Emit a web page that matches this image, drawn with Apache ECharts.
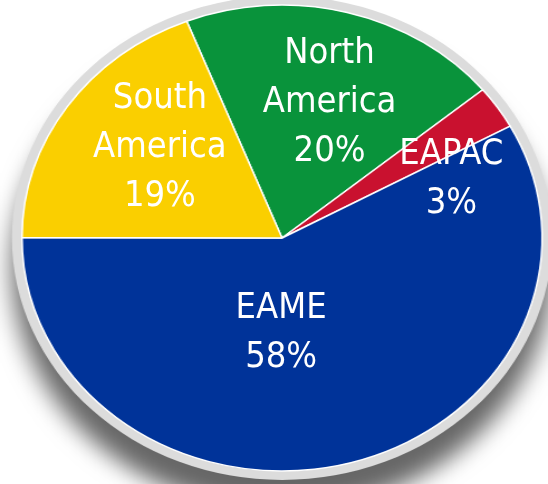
<!DOCTYPE html>
<html>
<head>
<meta charset="utf-8">
<script src="https://cdn.jsdelivr.net/npm/echarts@6/dist/echarts.min.js"></script>
<style>
html,body{margin:0;padding:0;background:#fff;width:548px;height:484px;overflow:hidden;}
#bg{position:absolute;left:0;top:0;width:491px;height:484px;transform:scaleX(1.1161);transform-origin:0 0;}
#fg{position:absolute;left:0;top:0;width:548px;height:484px;}
</style>
</head>
<body>
<div id="bg"></div>
<div id="fg"></div>
<script>
// ---- data ----
const categories = ['North America', 'EAPAC', 'EAME', 'South America'];
const shares = [20, 3, 58, 19];
const sliceColors = ['#09933b', '#c9112f', '#003399', '#facf00'];

const pieData = categories.map((c, i) => ({ name: c, value: shares[i] }));
const START = 111.5;

// background (elliptical, stretched) pie
const bg = echarts.init(document.getElementById('bg'), null, { renderer: 'canvas' });
bg.setOption({
  animation: false,
  series: [
    {
      type: 'pie', silent: true, center: [252.7, 238], radius: 242,
      label: { show: false }, labelLine: { show: false },
      itemStyle: { color: '#dcdcdc', shadowBlur: 22, shadowOffsetY: 30, shadowColor: 'rgba(0,0,0,0.6)' },
      data: [{ value: 1, name: 'ring' }]
    },
    {
      type: 'pie', silent: true, center: [252.7, 238], radius: 233,
      startAngle: START, clockwise: true,
      label: { show: false }, labelLine: { show: false },
      itemStyle: { borderColor: '#ffffff', borderWidth: 1.5 },
      color: sliceColors,
      data: pieData
    }
  ]
});

// foreground: labels only (unstretched text)
const labelShift = [[16, -13], [65, 12], [-32, -27], [-18, -19]];
const fg = echarts.init(document.getElementById('fg'), null, { renderer: 'canvas' });
fg.setOption({
  animation: false,
  series: [{
    type: 'pie', silent: true, center: [282, 238], radius: 246,
    startAngle: START, clockwise: true,
    itemStyle: { color: 'rgba(0,0,0,0)', borderWidth: 0 },
    labelLine: { show: false },
    label: {
      show: true, position: 'inside', color: '#ffffff',
      fontFamily: '"DejaVu Sans Condensed", "DejaVu Sans", sans-serif',
      fontSize: 36, lineHeight: 49,
      formatter: p => p.name.replace(' ', '\n') + '\n' + p.value + '%'
    },
    labelLayout: p => ({ dx: labelShift[p.dataIndex][0], dy: labelShift[p.dataIndex][1] }),
    data: pieData
  }]
});
</script>
</body>
</html>
